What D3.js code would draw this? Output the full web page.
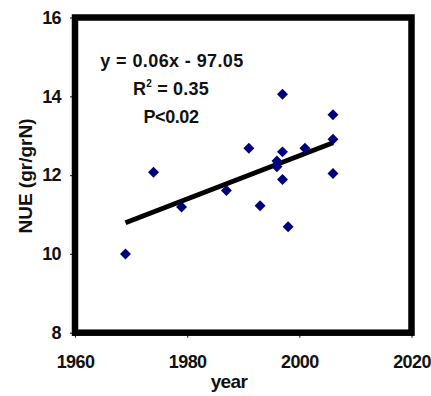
<!DOCTYPE html>
<html>
<head>
<meta charset="utf-8">
<script src="https://cdn.jsdelivr.net/npm/d3@7"></script>
<style>
  html, body { margin: 0; padding: 0; background: #fff; }
  text { font-family: "Liberation Sans", Arial, sans-serif; font-weight: bold; fill: #111; }
</style>
</head>
<body>
<svg id="chart" width="431" height="396"></svg>
<script>
// Data
const years = [1969, 1974, 1979, 1987, 1991, 1993, 1996, 1996, 1997, 1997, 1997, 1998, 2001, 2006, 2006, 2006];
const nue   = [10.0, 12.07, 11.19, 11.61, 12.68, 11.22, 12.36, 12.21, 14.05, 12.59, 11.89, 10.69, 12.68, 13.53, 12.91, 12.04];
const trendYears = [1969, 2006];
const trendNue   = [10.79, 12.82];
const xTicks = [1960, 1980, 2000, 2020];
const yTicks = [8, 10, 12, 14, 16];
const annotations = ["y = 0.06x - 97.05", "R2 = 0.35", "P<0.02"];
const xTitle = "year";
const yTitle = "NUE (gr/grN)";

const svg = d3.select("#chart");
const plotLeft = 75, plotRight = 411.5, plotTop = 17.5, plotBottom = 332.7;

const x = d3.scaleLinear().domain([1960, 2020]).range([plotLeft, plotRight]);
const y = d3.scaleLinear().domain([8, 16]).range([plotBottom, plotTop]);

// axes (ticks + labels)
const xAxis = svg.append("g").attr("transform", `translate(0,${plotBottom})`)
  .call(d3.axisBottom(x).tickValues(xTicks).tickFormat(d3.format("d")).tickSize(5).tickPadding(18));
const yAxis = svg.append("g").attr("transform", `translate(${plotLeft},0)`)
  .call(d3.axisLeft(y).tickValues(yTicks).tickFormat(d3.format("d")).tickSize(5).tickPadding(9));
[xAxis, yAxis].forEach(g => {
  g.select(".domain").remove();
  g.selectAll(".tick line").attr("stroke", "#333").attr("stroke-width", 1.2);
  g.selectAll(".tick text").style("font-size", "18px").style("font-family", '"Liberation Sans", Arial, sans-serif')
    .style("font-weight", "bold").attr("fill", "#111").style("letter-spacing", "-0.6px");
});

// plot frame
svg.append("rect")
  .attr("x", plotLeft).attr("y", plotTop)
  .attr("width", plotRight - plotLeft).attr("height", plotBottom - plotTop)
  .attr("fill", "none").attr("stroke", "#000").attr("stroke-width", 6.5);

// trend line
svg.append("line")
  .attr("x1", x(trendYears[0])).attr("y1", y(trendNue[0]))
  .attr("x2", x(trendYears[1])).attr("y2", y(trendNue[1]))
  .attr("stroke", "#000").attr("stroke-width", 5);

// points (diamonds)
const diamond = d3.symbol().type(d3.symbolSquare).size(60);
svg.append("g").selectAll("path")
  .data(years.map((yr, i) => [yr, nue[i]]))
  .join("path")
  .attr("d", diamond)
  .attr("transform", d => `translate(${x(d[0])},${y(d[1])}) rotate(45)`)
  .attr("fill", "#00007f");

// annotation text
const ann = svg.append("g").attr("text-anchor", "middle").style("font-size", "18px");
ann.append("text").attr("x", 172).attr("y", 67).style("letter-spacing", "0.4px").text(annotations[0]);
const r2 = ann.append("text").attr("x", 171).attr("y", 94.5).style("letter-spacing", "0.2px");
r2.append("tspan").text("R");
r2.append("tspan").attr("dy", -8).style("font-size", "10px").text("2");
r2.append("tspan").attr("dy", 8).text(" = 0.35");
ann.append("text").attr("x", 171).attr("y", 122.5).style("letter-spacing", "-0.4px").text(annotations[2]);

// axis titles
svg.append("text").attr("x", 229).attr("y", 388).attr("text-anchor", "middle")
  .style("font-size", "19px").style("letter-spacing", "-0.6px").text(xTitle);
svg.append("text").attr("transform", "translate(32,176) rotate(-90)").attr("text-anchor", "middle")
  .style("font-size", "19px").text(yTitle);
</script>
</body>
</html>
